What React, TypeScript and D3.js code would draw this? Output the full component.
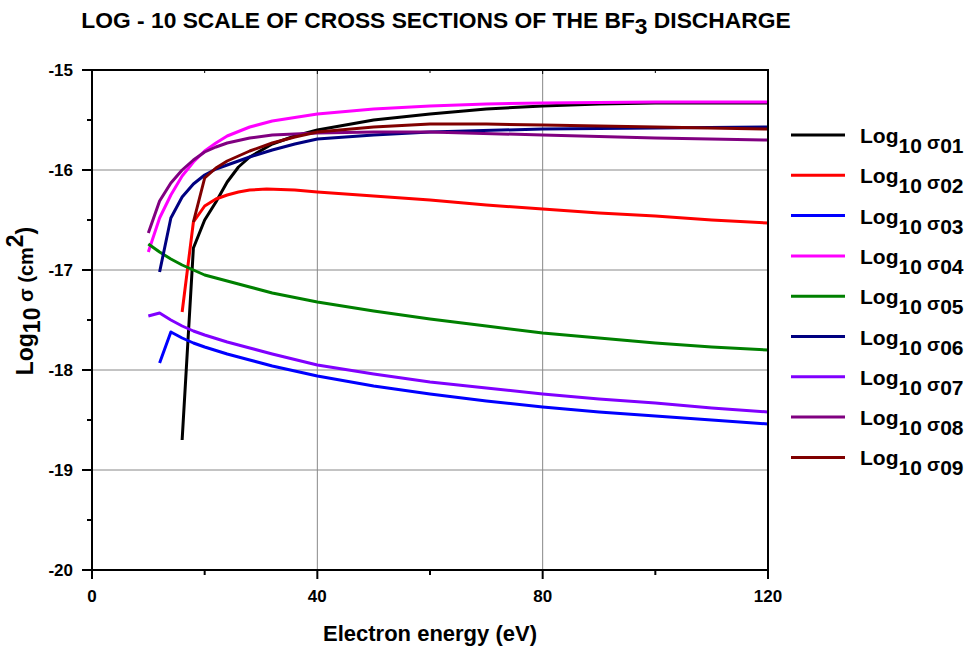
import React from "react";
import * as d3 from "d3";

const energy01 = [16, 18, 20, 22, 24, 26, 28, 32, 36, 40, 50, 60, 70, 80, 90, 100, 120];
const sigma01 = [-18.7, -16.78, -16.5, -16.32, -16.12, -15.97, -15.87, -15.74, -15.66, -15.6, -15.5, -15.44, -15.39, -15.36, -15.34, -15.33, -15.33];

const energy02 = [16, 18, 20, 22, 24, 26, 28, 31, 36, 40, 50, 60, 70, 80, 90, 100, 110, 120];
const sigma02 = [-17.42, -16.52, -16.36, -16.29, -16.25, -16.22, -16.2, -16.19, -16.2, -16.22, -16.26, -16.3, -16.35, -16.39, -16.43, -16.46, -16.5, -16.53];

const energy03 = [12, 14, 16, 18, 20, 24, 28, 32, 40, 50, 60, 70, 80, 90, 100, 110, 120];
const sigma03 = [-17.93, -17.62, -17.68, -17.73, -17.77, -17.84, -17.9, -17.96, -18.06, -18.16, -18.24, -18.31, -18.37, -18.42, -18.46, -18.5, -18.54];

const energy04 = [10, 12, 14, 16, 18, 20, 22, 24, 28, 32, 40, 50, 60, 70, 80, 100, 120];
const sigma04 = [-16.82, -16.48, -16.25, -16.06, -15.92, -15.81, -15.73, -15.66, -15.57, -15.51, -15.44, -15.39, -15.36, -15.34, -15.33, -15.32, -15.32];

const energy05 = [10, 12, 14, 16, 18, 20, 24, 28, 32, 40, 50, 60, 70, 80, 90, 100, 110, 120];
const sigma05 = [-16.74, -16.82, -16.89, -16.95, -17.0, -17.05, -17.11, -17.17, -17.23, -17.32, -17.41, -17.49, -17.56, -17.63, -17.68, -17.73, -17.77, -17.8];

const energy06 = [12, 14, 16, 18, 20, 22, 24, 28, 32, 36, 40, 50, 60, 80, 100, 120];
const sigma06 = [-17.02, -16.48, -16.27, -16.14, -16.05, -15.99, -15.95, -15.87, -15.8, -15.74, -15.69, -15.65, -15.62, -15.59, -15.58, -15.57];

const energy07 = [10, 12, 14, 16, 18, 20, 24, 28, 32, 40, 50, 60, 70, 80, 90, 100, 110, 120];
const sigma07 = [-17.46, -17.43, -17.5, -17.56, -17.61, -17.65, -17.72, -17.78, -17.84, -17.95, -18.04, -18.12, -18.18, -18.24, -18.29, -18.33, -18.38, -18.42];

const energy08 = [10, 12, 14, 16, 18, 20, 22, 24, 28, 32, 40, 50, 60, 80, 100, 120];
const sigma08 = [-16.63, -16.31, -16.13, -16.0, -15.9, -15.82, -15.77, -15.73, -15.68, -15.65, -15.63, -15.62, -15.62, -15.65, -15.68, -15.7];

const energy09 = [18, 20, 22, 24, 26, 28, 32, 36, 40, 50, 60, 70, 80, 100, 120];
const sigma09 = [-16.52, -16.08, -15.98, -15.91, -15.86, -15.81, -15.73, -15.67, -15.62, -15.57, -15.54, -15.54, -15.55, -15.57, -15.59];

const seriesLabels = ["01", "02", "03", "04", "05", "06", "07", "08", "09"];
const seriesColors = ["#000000", "#ff0000", "#0000ff", "#ff00ff", "#008000", "#000080", "#8000ff", "#800080", "#800000"];

const xTicks = [0, 40, 80, 120];
const xMinorTicks = [20, 60, 100];
const yTicks = [-15, -16, -17, -18, -19, -20];
const yMinorTicks = [-15.5, -16.5, -17.5, -18.5, -19.5];

const energies = [energy01, energy02, energy03, energy04, energy05, energy06, energy07, energy08, energy09];
const sigmas = [sigma01, sigma02, sigma03, sigma04, sigma05, sigma06, sigma07, sigma08, sigma09];

export default function App() {
  const W = 977;
  const H = 651;
  const left = 92, right = 768, top = 70, bottom = 570;
  const x = d3.scaleLinear().domain([0, 120]).range([left, right]);
  const y = d3.scaleLinear().domain([-20, -15]).range([bottom, top]);
  const line = d3
    .line<[number, number]>()
    .x((d) => x(d[0]))
    .y((d) => y(d[1]))
    .curve(d3.curveLinear);

  const font = "'Liberation Sans', Arial, sans-serif";

  return (
    <svg
      width={W}
      height={H}
      style={{ position: "absolute", left: 0, top: 0, background: "#fff" }}
      fontFamily={font}
    >
      <rect x={0} y={0} width={W} height={H} fill="#fff" />
      {/* title */}
      <text x={436} y={28} textAnchor="middle" fontSize={22.8} fontWeight="bold">
        LOG - 10 SCALE OF CROSS SECTIONS OF THE BF
        <tspan dy={6}>3</tspan>
        <tspan dy={-6}> DISCHARGE</tspan>
      </text>

      {/* grid */}
      {xTicks.slice(1, -1).map((t) => (
        <line key={"gx" + t} x1={x(t)} x2={x(t)} y1={top} y2={bottom} stroke="#888" strokeWidth={1} />
      ))}
      {yTicks.slice(1, -1).map((t) => (
        <line key={"gy" + t} x1={left} x2={right} y1={y(t)} y2={y(t)} stroke="#888" strokeWidth={1} />
      ))}

      {/* series */}
      {energies.map((en, i) => {
        const pts: [number, number][] = en.map((e, j) => [e, sigmas[i][j]]);
        return (
          <path
            key={"s" + i}
            d={line(pts) || ""}
            fill="none"
            stroke={seriesColors[i]}
            strokeWidth={3}
            strokeLinejoin="round"
          />
        );
      })}

      {/* frame */}
      <rect x={left} y={top} width={right - left} height={bottom - top} fill="none" stroke="#000" strokeWidth={2} />

      {/* x ticks */}
      {xTicks.map((t) => (
        <g key={"xt" + t}>
          <line x1={x(t)} x2={x(t)} y1={bottom} y2={bottom + 9} stroke="#000" strokeWidth={2} />
          <line x1={x(t)} x2={x(t)} y1={top} y2={top + 4} stroke="#000" strokeWidth={1} />
          <text x={x(t)} y={bottom + 32} textAnchor="middle" fontSize={17} fontWeight="bold">
            {t}
          </text>
        </g>
      ))}
      {xMinorTicks.map((t) => (
        <g key={"xm" + t}>
          <line x1={x(t)} x2={x(t)} y1={bottom} y2={bottom + 5} stroke="#000" strokeWidth={2} />
          <line x1={x(t)} x2={x(t)} y1={top} y2={top + 3} stroke="#000" strokeWidth={1} />
        </g>
      ))}

      {/* y ticks */}
      {yTicks.map((t) => (
        <g key={"yt" + t}>
          <line x1={left - 10} x2={left} y1={y(t)} y2={y(t)} stroke="#000" strokeWidth={2} />
          <text x={left - 19} y={y(t) + 6} textAnchor="end" fontSize={17} fontWeight="bold">
            {t}
          </text>
        </g>
      ))}
      {yMinorTicks.map((t) => (
        <line key={"ym" + t} x1={left - 5} x2={left} y1={y(t)} y2={y(t)} stroke="#000" strokeWidth={2} />
      ))}

      {/* axis labels */}
      <text x={430} y={641} textAnchor="middle" fontSize={22} fontWeight="bold">
        Electron energy (eV)
      </text>
      <text transform="translate(33,301) rotate(-90)" textAnchor="middle" fontSize={23} fontWeight="bold">
        Log<tspan dy={7}>10</tspan>
        <tspan dy={-7} fontSize={20}> σ (cm</tspan>
        <tspan dy={-10}>2</tspan>
        <tspan dy={10}>)</tspan>
      </text>

      {/* legend */}
      {seriesLabels.map((lab, i) => {
        const ly = 135 + i * 40.3;
        return (
          <g key={"lg" + i}>
            <line x1={791} x2={845} y1={ly} y2={ly} stroke={seriesColors[i]} strokeWidth={3} />
            <text x={860} y={ly + 8} fontSize={21} fontWeight="bold">
              Log
              <tspan dy={10}>10</tspan>
              <tspan dy={-4} fontSize={19}> σ</tspan>
              <tspan dy={4}>{lab}</tspan>
            </text>
          </g>
        );
      })}
    </svg>
  );
}
